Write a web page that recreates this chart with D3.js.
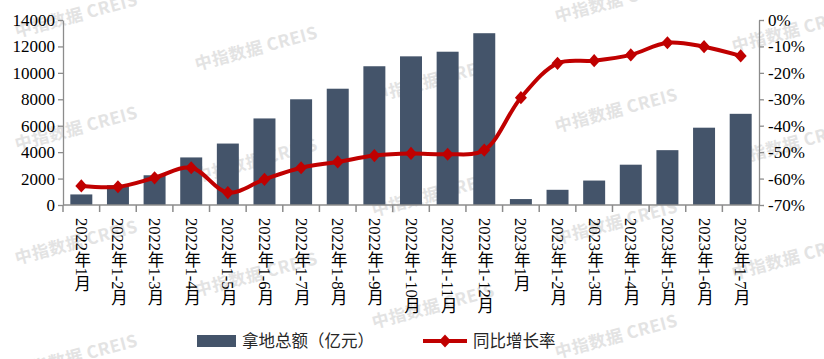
<!DOCTYPE html>
<html><head><meta charset="utf-8">
<script src="https://cdn.jsdelivr.net/npm/d3@7"></script>
<style>
html,body{margin:0;padding:0;background:#fff;}
svg{display:block;}
</style>
</head><body>
<svg id="chart" width="824" height="359"></svg>
<script>
const categories = ["2022年1月","2022年1-2月","2022年1-3月","2022年1-4月","2022年1-5月","2022年1-6月","2022年1-7月","2022年1-8月","2022年1-9月","2022年1-10月","2022年1-11月","2022年1-12月","2023年1月","2023年1-2月","2023年1-3月","2023年1-4月","2023年1-5月","2023年1-6月","2023年1-7月"];
const landAmount = [800,1500,2250,3600,4650,6550,8000,8800,10500,11250,11600,13000,450,1150,1850,3050,4150,5850,6900];
const yoyRate = [-62.8,-63.1,-59.7,-55.9,-65.3,-60.3,-55.9,-53.7,-51.3,-50.5,-50.8,-49.2,-29.4,-16.4,-15.4,-13.2,-8.6,-10.1,-13.6];
const leftTicks = [0,2000,4000,6000,8000,10000,12000,14000];
const rightTicks = [-70,-60,-50,-40,-30,-20,-10,0];
const seriesNames = ["拿地总额（亿元）","同比增长率"];
const watermarkText = "中指数据 CREIS";

const svg = d3.select("#chart");
const mLeft = 63, mRight = 759, mTop = 20, mBottom = 205;
const serif = "'Liberation Serif','Times New Roman','Noto Sans CJK SC',serif";
const cjk = "'Liberation Serif','Noto Sans CJK SC',serif";
const axisColor = "#8c8c8c";
const barColor = "#44546A";
const lineColor = "#C00000";

// watermark (behind)
const wmPos = [[13,15],[13,128],[13,242],[13,356],[193,48],[193,160],[193,274],[370,80],[370,194],[370,306],[553,0],[553,110],[553,222],[553,336],[730,30],[730,143],[730,257]];
svg.append("g").selectAll("text").data(wmPos).join("text")
  .attr("x", d=>d[0]).attr("y", d=>d[1]+6)
  .attr("transform", d=>`rotate(-15,${d[0]+65},${d[1]})`)
  .attr("font-family","'Noto Sans CJK SC','Open Sans',sans-serif")
  .attr("font-weight","bold").attr("font-size",17)
  .attr("fill","#e3e3e3").attr("letter-spacing","0.5px")
  .text(watermarkText);

const x = d3.scaleBand().domain(categories).range([mLeft,mRight]).paddingInner(0.4).paddingOuter(0.2);
const yL = d3.scaleLinear().domain([0,14000]).range([mBottom,mTop]);
const yR = d3.scaleLinear().domain([-70,0]).range([mBottom,mTop]);

// bars
svg.append("g").selectAll("rect").data(landAmount).join("rect")
  .attr("x",(d,i)=>x(categories[i])).attr("width",x.bandwidth())
  .attr("y",d=>yL(d)).attr("height",d=>mBottom-yL(d))
  .attr("fill",barColor);

// left axis
const gL = svg.append("g").attr("transform",`translate(${mLeft},0)`)
  .call(d3.axisLeft(yL).tickValues(leftTicks).tickSize(5).tickSizeOuter(0).tickPadding(3).tickFormat(d3.format("d")));
// right axis
const gR = svg.append("g").attr("transform",`translate(${mRight},0)`)
  .call(d3.axisRight(yR).tickValues(rightTicks).tickSize(5).tickSizeOuter(0).tickPadding(4).tickFormat(d=>d+"%"));
[gL,gR].forEach(g=>{
  g.select(".domain").attr("stroke",axisColor).attr("stroke-width",1.3);
  g.selectAll(".tick line").attr("stroke",axisColor).attr("stroke-width",1.3);
  g.selectAll(".tick text").attr("font-family",serif).attr("font-size",17).attr("fill","#000");
});

// bottom axis
const step = x.step();
const gB = svg.append("g");
gB.append("line").attr("x1",mLeft).attr("x2",mRight).attr("y1",mBottom).attr("y2",mBottom)
  .attr("stroke",axisColor).attr("stroke-width",1.5);
const bounds = categories.map(c=>x(c)-step*x.paddingInner()/2).concat([mRight]);
gB.selectAll("line.tk").data(bounds).join("line").attr("class","tk")
  .attr("x1",d=>d).attr("x2",d=>d).attr("y1",mBottom).attr("y2",mBottom+7)
  .attr("stroke",axisColor).attr("stroke-width",1.5);
gB.selectAll("text").data(categories).join("text")
  .attr("x",d=>x(d)+x.bandwidth()/2).attr("y",218)
  .style("writing-mode","vertical-rl")
  .attr("font-family",cjk).attr("font-size",16.5).attr("fill","#000")
  .text(d=>d);

// line
const line = d3.line().x((d,i)=>x(categories[i])+x.bandwidth()/2).y(d=>yR(d)).curve(d3.curveCatmullRom.alpha(0.5));
svg.append("path").datum(yoyRate).attr("d",line).attr("fill","none")
  .attr("stroke",lineColor).attr("stroke-width",4).attr("stroke-linejoin","round");
const diamond = {draw(ctx,size){const r=Math.sqrt(size)/2; ctx.moveTo(0,-r*1.1); ctx.lineTo(r,0); ctx.lineTo(0,r*1.1); ctx.lineTo(-r,0); ctx.closePath();}};
const sym = d3.symbol().type(diamond).size(144);
svg.append("g").selectAll("path").data(yoyRate).join("path")
  .attr("transform",(d,i)=>`translate(${x(categories[i])+x.bandwidth()/2},${yR(d)})`)
  .attr("d",sym).attr("fill",lineColor);

// legend
const lg = svg.append("g");
lg.append("rect").attr("x",197).attr("y",335).attr("width",39).attr("height",12).attr("fill",barColor);
lg.append("text").attr("x",242).attr("y",347).attr("font-family",cjk).attr("font-size",16.5).attr("fill","#262626").text(seriesNames[0]);
lg.append("line").attr("x1",423).attr("x2",467).attr("y1",341).attr("y2",341).attr("stroke",lineColor).attr("stroke-width",4);
lg.append("path").attr("transform","translate(445,341)").attr("d",sym).attr("fill",lineColor);
lg.append("text").attr("x",473).attr("y",347).attr("font-family",cjk).attr("font-size",16.5).attr("fill","#262626").text(seriesNames[1]);
</script>
</body></html>
